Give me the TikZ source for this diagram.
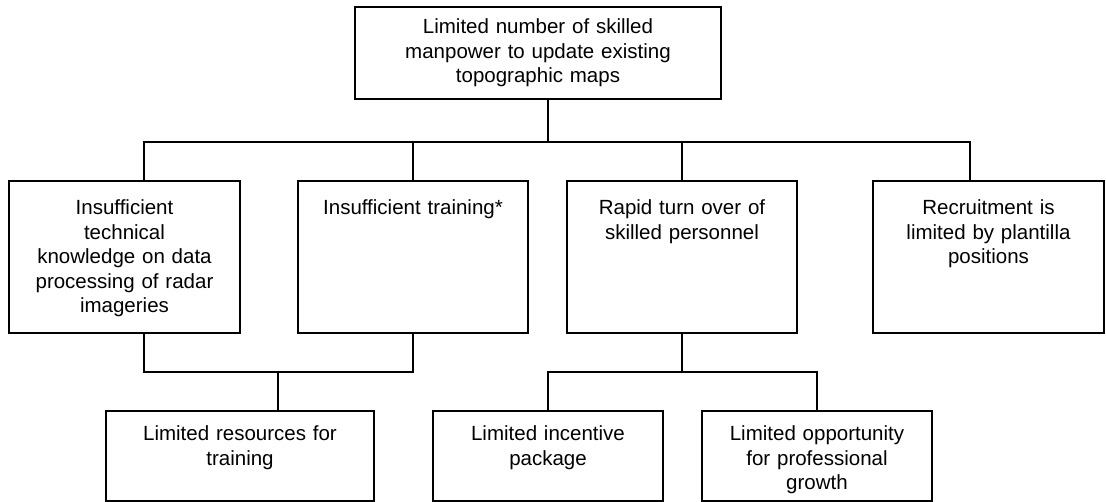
\documentclass[tikz,border=0pt]{standalone}
\usepackage{fontspec}
\setmainfont{Liberation Sans}
\tikzstyle{problem} = [rectangle, draw=black, line width=1.4pt, minimum width=366pt, minimum height=92pt, text width=340pt, align=center, font=\fontsize{20.5}{24.5}\selectfont]
\tikzstyle{cause} = [rectangle, draw=black, line width=1.4pt, minimum width=231pt, text width=218pt, inner xsep=6pt, inner ysep=6pt, text height=28pt, text depth=112pt, align=center, font=\fontsize{20.5}{24.5}\selectfont]
\tikzstyle{subcause} = [rectangle, draw=black, line width=1.4pt, minimum width=230pt, text width=218pt, inner xsep=6pt, inner ysep=6pt, text height=24pt, text depth=54pt, align=center, font=\fontsize{20.5}{24.5}\selectfont]
\tikzstyle{branch} = [line width=1.4pt, draw=black]

\begin{document}
\begin{tikzpicture}[x=1pt, y=-1pt]
        \useasboundingbox (0,0) rectangle (1106,502);

        \node (node0) [problem] at (538,53) {Limited number of skilled\\manpower to update existing\\topographic maps};

        \node (node1) [cause] at (124.5,257) {Insufficient\\technical\\knowledge on data\\processing of radar\\imageries};
        \node (node2) [cause, minimum width=230pt] at (413,257) {Insufficient training*};
        \node (node3) [cause, minimum width=230pt] at (682,257) {Rapid turn over of\\skilled personnel};
        \node (node4) [cause] at (988.5,257) {Recruitment is\\limited by plantilla\\positions};

        \node (node5) [subcause, minimum width=268pt] at (240,456) {Limited resources for\\training};
        \node (node6) [subcause] at (548,456) {Limited incentive\\package};
        \node (node7) [subcause] at (817,456) {Limited opportunity\\for professional\\growth};

        % junctions of the tree
        \coordinate (bar0) at (548,142);
        \coordinate (bar1) at (144,142);
        \coordinate (bar2) at (970,142);
        \coordinate (bar3) at (278,372);
        \coordinate (bar4) at (682,372);

        \draw [branch] (node0.south -| bar0) -- (bar0);
        \draw [branch] (node1.north -| bar1) -- (bar1) -- (bar2) -- (node4.north -| bar2);
        \draw [branch] (node2.north) -- (node2.north |- bar0);
        \draw [branch] (node3.north) -- (node3.north |- bar0);

        \draw [branch] (node1.south -| bar1) -- (bar1 |- bar3) -- (node2.south |- bar3) -- (node2.south);
        \draw [branch] (bar3) -- (node5.north -| bar3);
        \draw [branch] (node3.south) -- (bar4);
        \draw [branch] (node6.north) |- (bar4) -| (node7.north);
    \end{tikzpicture}
\end{document}
